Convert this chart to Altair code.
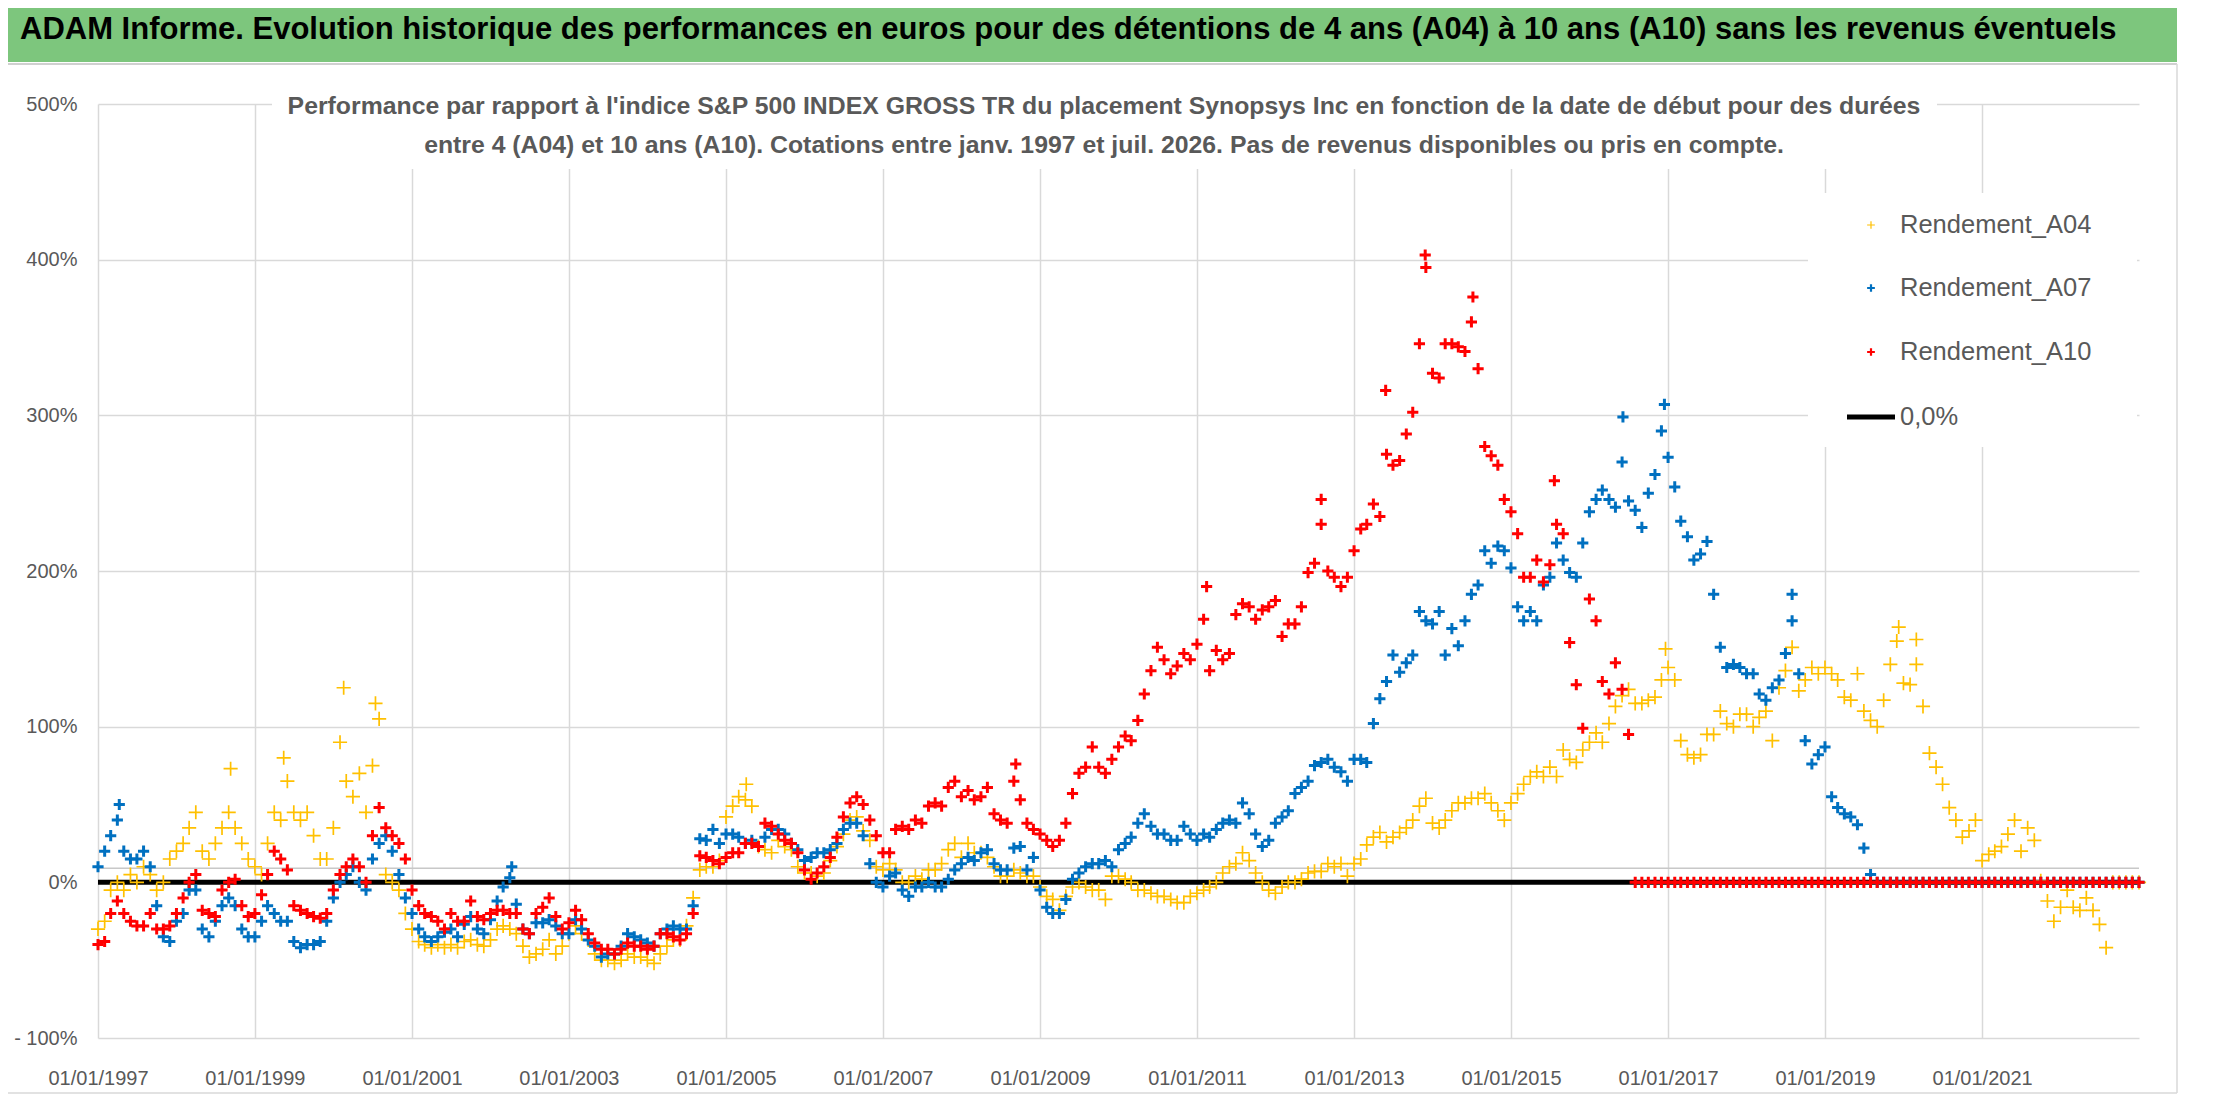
import altair as alt
import pandas as pd

# ---------------- data (monthly readings, % vs index) ----------------
START_MONTH = "1997-01-01"
END_DATE = "2023-01-01"
SERIES_NAMES = ["Rendement_A04", "Rendement_A07", "Rendement_A10"]
COLORS = ["#FFC000", "#0070C0", "#FF0000"]
X_TICK_YEARS = [1997, 1999, 2001, 2003, 2005, 2007, 2009, 2011, 2013, 2015, 2017, 2019, 2021]
Y_TICKS = [-100, 0, 100, 200, 300, 400, 500]
REF_LINE = 9
ZERO_LABEL = "0,0%"

A04 = [
    -30, -25, -5, 0, -5, 5, 0, 10, 5, -5, 0, 15,
    20, 25, 35, 45, 20, 15, 25, 35, 45, 35, 25, 15,
    10, 5, 25, 45, 40, 65, 45, 40, 45, 30, 15, 15,
    35, 90, 65, 55, 70, 45, 75, 105, 5, 0, -5, -20,
    -30, -38, -40, -42, -40, -42, -40, -42, -38, -37, -40, -41,
    -37, -30, -28, -30, -33, -41, -48, -46, -43, -37, -46, -41,
    -33, -28, -33, -37, -46, -50, -50, -52, -50, -46, -48, -48,
    -50, -52, -46, -41, -37, -37, -28, -10, 8, 10, 10, 14,
    42, 49, 55, 53, 49, 23, 21, 19, 27, 23, 21, 10,
    6, 6, 4, 6, 14, 23, 31, 40, 42, 33, 27, 10,
    8, 12, 8, 0, 0, 4, 2, 8, 8, 12, 21, 25,
    16, 25, 19, 19, 16, 10, 4, 4, 8, 6, 4, 4,
    -3, -9, -11, -18, -9, -3, 0, -3, -5, -5, -11, 4,
    4, 2, 0, -5, -5, -7, -9, -9, -11, -13, -13, -9,
    -7, -5, -3, 0, 6, 10, 12, 19, 14, 6, 0, -5,
    -7, -3, 0, 0, 2, 6, 7, 7, 12, 10, 12, 4,
    12, 15, 24, 29, 32, 26, 29, 32, 35, 40, 49, 54,
    38, 35, 40, 46, 51, 51, 54, 54, 57, 51, 46, 40,
    51, 57, 63, 68, 71, 68, 74, 68, 85, 79, 77, 85,
    90, 96, 90, 102, 113, 120, 124, 115, 115, 117, 119, 130,
    138, 130, 91, 82, 80, 82, 95, 95, 110, 102, 100, 108,
    108, 100, 106, 110, 91, 125, 136, 151, 123, 130, 138, 134,
    138, 134, 130, 119, 117, 134, 110, 104, 100, 117, 140, 155,
    128, 127, 140, 113, 83, 74, 63, 48, 40, 29, 33, 40,
    14, 18, 20, 23, 31, 40, 20, 35, 27, 1, -12, -25,
    -16, -5, -16, -18, -10, -18, -27, -42, 0, 0, 0, 0,
    0,
]

A07 = [
    10, 20, 30, 40, 20, 15, 15, 20, 10, -15, -35, -38,
    -25, -20, -5, -5, -30, -35, -25, -15, -10, -15, -30, -35,
    -35, -25, -15, -20, -25, -25, -38, -42, -40, -40, -38, -25,
    -10, 0, 5, 10, 0, -5, 15, 25, 30, 20, 5, -10,
    -20, -30, -35, -38, -35, -32, -30, -35, -27, -22, -30, -33,
    -24, -12, -3, 3, -14, -30, -33, -26, -26, -24, -28, -33,
    -33, -24, -30, -37, -41, -48, -46, -46, -41, -33, -35, -37,
    -39, -41, -33, -30, -28, -30, -30, -15, 28, 27, 34, 25,
    31, 31, 29, 25, 27, 23, 29, 34, 34, 31, 25, 21,
    14, 16, 19, 19, 21, 25, 34, 38, 38, 30, 12, 0,
    -3, 4, 6, -5, -9, -3, -3, 0, -3, -3, 2, 8,
    12, 16, 14, 19, 21, 12, 8, 8, 22, 23, 8, 16,
    -5, -16, -20, -20, -11, 2, 6, 10, 12, 12, 14, 10,
    21, 25, 29, 38, 44, 36, 31, 31, 27, 27, 36, 31,
    27, 31, 29, 34, 38, 40, 38, 51, 44, 31, 23, 27,
    38, 42, 46, 57, 61, 65, 75, 77, 79, 74, 71, 65,
    79, 79, 77, 102, 118, 129, 146, 135, 141, 146, 174, 168,
    166, 174, 146, 163, 152, 168, 185, 191, 213, 205, 216, 213,
    202, 177, 168, 174, 168, 191, 196, 218, 207, 199, 196, 218,
    238, 246, 252, 246, 241, 270, 245, 239, 228, 250, 262, 290,
    273, 254, 232, 222, 207, 211, 219, 185, 151, 138, 140, 138,
    134, 134, 121, 117, 125, 130, 147, 168, 134, 91, 76, 82,
    87, 55, 48, 44, 42, 37, 22, 5, 0, 0, 0, 0,
    0, 0, 0, 0, 0, 0, 0, 0, 0, 0, 0, 0,
    0, 0, 0, 0, 0, 0, 0, 0, 0, 0, 0, 0,
    0, 0, 0, 0, 0, 0, 0, 0, 0, 0, 0, 0,
    0,
]

A10 = [
    -40, -38, -20, -12, -20, -25, -28, -28, -20, -30, -30, -28,
    -20, -10, 0, 5, -18, -20, -22, -5, 0, 2, -15, -22,
    -20, -8, 5, 20, 15, 8, -15, -18, -20, -22, -23, -20,
    -5, 5, 10, 15, 10, 0, 30, 48, 35, 30, 25, 15,
    -5, -15, -20, -22, -25, -30, -20, -25, -25, -12, -22, -24,
    -20, -18, -18, -20, -20, -30, -33, -20, -16, -10, -22, -30,
    -26, -18, -24, -33, -39, -43, -43, -46, -43, -39, -41, -41,
    -43, -41, -33, -33, -35, -37, -33, -20, 17, 16, 14, 12,
    16, 19, 19, 25, 25, 23, 38, 36, 31, 27, 25, 19,
    8, 2, 6, 10, 16, 29, 42, 51, 55, 50, 40, 30,
    19, 19, 34, 36, 34, 40, 38, 49, 51, 49, 61, 65,
    55, 59, 53, 55, 61, 44, 40, 38, 65, 53, 38, 34,
    31, 27, 23, 27, 38, 57, 70, 74, 87, 74, 70, 79,
    87, 94, 91, 104, 121, 136, 151, 143, 134, 139, 147, 143,
    153, 169, 136, 149, 143, 147, 172, 179, 177, 169, 175, 177,
    181, 158, 166, 166, 177, 199, 205, 230, 200, 196, 190, 196,
    213, 227, 230, 243, 235, 275, 268, 271, 288, 302, 346, 395,
    327, 324, 346, 346, 344, 341, 360, 330, 280, 274, 268, 246,
    238, 224, 196, 196, 207, 193, 204, 230, 224, 154, 127, 99,
    182, 168, 129, 121, 141, 124, 95, 0, 0, 0, 0, 0,
    0, 0, 0, 0, 0, 0, 0, 0, 0, 0, 0, 0,
    0, 0, 0, 0, 0, 0, 0, 0, 0, 0, 0, 0,
    0, 0, 0, 0, 0, 0, 0, 0, 0, 0, 0, 0,
    0, 0, 0, 0, 0, 0, 0, 0, 0, 0, 0, 0,
    0, 0, 0, 0, 0, 0, 0, 0, 0, 0, 0, 0,
    0, 0, 0, 0, 0, 0, 0, 0, 0, 0, 0, 0,
    0,
]

# isolated extreme readings (between monthly samples)
A04_PEAK_DATES = ["1998-09-10", "1999-05-15", "2000-02-18", "2000-07-15", "2005-04-05",
                  "2016-12-20", "2019-12-10", "2020-03-01"]
A04_PEAK_VALUES = [73, 80, 125, 115, 63, 150, 164, 156]
A07_PEAK_DATES = ["1997-04-10", "2002-04-10", "2016-06-05", "2016-12-15", "2018-08-01"]
A07_PEAK_VALUES = [50, 10, 299, 307, 185]
A10_PEAK_DATES = ["2008-09-10", "2011-02-15", "2012-08-01", "2013-05-28", "2013-11-28",
                  "2014-07-08", "2015-07-22"]
A10_PEAK_VALUES = [76, 190, 246, 316, 403, 376, 258]

TITLE = ("ADAM Informe. Evolution historique des performances en euros pour des "
         "détentions de 4 ans (A04) à 10 ans (A10) sans les revenus éventuels")
SUB1 = ("Performance par rapport à l'indice S&P 500 INDEX GROSS TR  du placement "
        "Synopsys Inc en fonction de la date de début pour des durées")
SUB2 = ("entre 4 (A04) et 10 ans (A10). Cotations entre janv. 1997 et juil. 2026. "
        "Pas de revenus disponibles ou pris en compte.")

# ---------------- build tables ----------------
dates = pd.date_range(START_MONTH, periods=len(A04), freq="MS")
tables = []
for name, vals, pd_dates, pd_vals in zip(
        SERIES_NAMES, [A04, A07, A10],
        [A04_PEAK_DATES, A07_PEAK_DATES, A10_PEAK_DATES],
        [A04_PEAK_VALUES, A07_PEAK_VALUES, A10_PEAK_VALUES]):
    base = pd.DataFrame({"date": dates, "value": vals})
    extra = pd.DataFrame({"date": pd.to_datetime(pd_dates), "value": pd_vals})
    tables.append(pd.concat([base, extra], ignore_index=True))
line_dates = pd.to_datetime([START_MONTH, END_DATE])
zero_df = pd.DataFrame({"date": line_dates, "value": [0, 0]})
ref_df = pd.DataFrame({"date": line_dates, "value": [REF_LINE, REF_LINE]})
one = pd.DataFrame({"k": [0]})

# ---------------- layout constants ----------------
W, H = 2041, 934
PAD = {"left": 90, "top": 96, "right": 69, "bottom": 56}
FONT = "Liberation Sans"
GREY_TXT = "#595959"
PLUS = "M-1,0H1M0,-1V1"

def dt(y):
    return alt.DateTime(year=y, month=1, date=1)

x_enc = alt.X(
    "date:T",
    title=None,
    scale=alt.Scale(domain=[dt(1997), dt(2023)]),
    axis=alt.Axis(values=[dt(y) for y in X_TICK_YEARS], format="%d/%m/%Y",
                  labelPadding=30, labelFontSize=20, labelFlush=False),
)
y_enc = alt.Y(
    "value:Q",
    title=None,
    scale=alt.Scale(domain=[-100, 500], nice=False, zero=False),
    axis=alt.Axis(values=Y_TICKS, labelPadding=21, labelFontSize=20, labelFlush=False,
                  labelExpr="datum.value == -100 ? '- 100%' : datum.value + '%'"),
)

ref_line = alt.Chart(ref_df).mark_line(color="#C8C8C8", strokeWidth=1.5).encode(x=x_enc, y=y_enc)
zero_line = alt.Chart(zero_df).mark_line(color="black", strokeWidth=5).encode(x="date:T", y="value:Q")

series_layers = []
for tbl, col, sw, sz in zip(tables, COLORS, [1.7, 3.0, 3.0], [200, 125, 125]):
    series_layers.append(
        alt.Chart(tbl).mark_point(shape=PLUS, filled=False, strokeWidth=sw, size=sz,
                                  opacity=1, color=col)
        .encode(x="date:T", y="value:Q")
    )

# title bar
bar = alt.Chart(one).mark_rect(color="#7DC67D").encode(
    x=alt.value(-90), x2=alt.value(2079), y=alt.value(-96), y2=alt.value(-42))
bar_line = alt.Chart(one).mark_rule(color="#D0D0D0", strokeWidth=2).encode(
    x=alt.value(-90), x2=alt.value(2079), y=alt.value(-40))
title = alt.Chart(one).mark_text(text=TITLE, font=FONT, fontSize=31, fontWeight="bold",
                                 color="black", align="left", baseline="middle").encode(
    x=alt.value(-78), y=alt.value(-74))

# subtitle box
sub_box = alt.Chart(one).mark_rect(color="white").encode(
    x=alt.value(174), x2=alt.value(1839), y=alt.value(-14), y2=alt.value(65))
sub1 = alt.Chart(one).mark_text(text=SUB1, font=FONT, fontSize=24.8, fontWeight="bold",
                                color=GREY_TXT, align="center", baseline="middle").encode(
    x=alt.value(1006), y=alt.value(3))
sub2 = alt.Chart(one).mark_text(text=SUB2, font=FONT, fontSize=24.8, fontWeight="bold",
                                color=GREY_TXT, align="center", baseline="middle").encode(
    x=alt.value(1006), y=alt.value(42))

# legend
leg_box = alt.Chart(one).mark_rect(color="white").encode(
    x=alt.value(1710), x2=alt.value(2039), y=alt.value(89), y2=alt.value(343))
leg_layers = [leg_box]
leg_y = [121, 184, 248, 313]
for i, (name, col, sw) in enumerate(zip(SERIES_NAMES, COLORS, [1.2, 2.2, 2.2])):
    leg_layers.append(
        alt.Chart(one).mark_point(shape=PLUS, filled=False, strokeWidth=sw, size=60,
                                  opacity=1, color=col)
        .encode(x=alt.value(1773), y=alt.value(leg_y[i])))
    leg_layers.append(
        alt.Chart(one).mark_text(text=name, font=FONT, fontSize=25.5, color=GREY_TXT,
                                 align="left", baseline="middle")
        .encode(x=alt.value(1802), y=alt.value(leg_y[i])))
leg_layers.append(
    alt.Chart(one).mark_rule(color="black", strokeWidth=5).encode(
        x=alt.value(1749), x2=alt.value(1797), y=alt.value(leg_y[3])))
leg_layers.append(
    alt.Chart(one).mark_text(text=ZERO_LABEL, font=FONT, fontSize=25.5, color=GREY_TXT,
                             align="left", baseline="middle")
    .encode(x=alt.value(1802), y=alt.value(leg_y[3])))

# frame lines
frame_r = alt.Chart(one).mark_rule(color="#D9D9D9", strokeWidth=1.5).encode(
    x=alt.value(2079), y=alt.value(-40), y2=alt.value(989))
frame_b = alt.Chart(one).mark_rule(color="#D9D9D9", strokeWidth=1.5).encode(
    x=alt.value(-90), x2=alt.value(2079), y=alt.value(989))

chart = alt.layer(
    ref_line, zero_line, *series_layers, sub_box, sub1, sub2, *leg_layers,
    bar, bar_line, title, frame_r, frame_b,
).properties(
    width=W, height=H,
    autosize=alt.AutoSizeParams(type="none"),
    padding=PAD,
    background="white",
).configure_axis(
    labelFont=FONT, labelColor=GREY_TXT, gridColor="#D9D9D9", gridWidth=1.5,
    domain=False, ticks=False,
).configure_view(strokeWidth=0)

chart.save("out.html", embed_options={"renderer": "svg", "actions": False})
